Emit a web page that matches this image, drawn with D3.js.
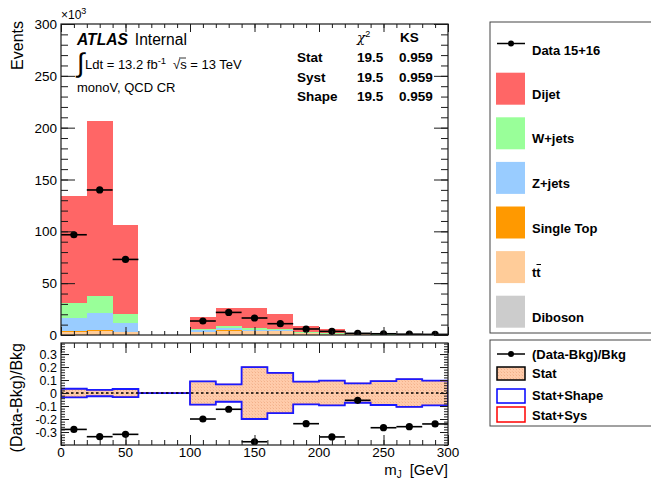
<!DOCTYPE html>
<html>
<head>
<meta charset="utf-8">
<script src="https://cdn.jsdelivr.net/npm/d3@7"></script>
<style>
  html, body { margin: 0; padding: 0; background: #fff; }
  svg { display: block; font-family: "Liberation Sans", Arial, Helvetica, sans-serif; }
</style>
</head>
<body>
<svg id="chart" width="651" height="481"></svg>
<script>
// m_J binning: 15 bins of 20 GeV from 0 to 300
const binEdges = [0, 20, 40, 60, 80, 100, 120, 140, 160, 180, 200, 220, 240, 260, 280, 300];

// Background processes (x10^3 events), stacked bottom to top
const diboson   = [0.3, 0.4, 0.3, 0, 0, 0.3, 0.4, 0.3, 0.3, 0.2, 0.1, 0.05, 0.03, 0.02, 0.02];
const ttbar     = [2.5, 3.5, 2.2, 0, 0, 2.6, 3.5, 3.4, 3.2, 1.5, 0.9, 0.5, 0.3, 0.2, 0.15];
const singleTop = [0.7, 0.8, 0.5, 0, 0, 0.4, 0.5, 0.4, 0.4, 0.2, 0.1, 0.05, 0.03, 0.02, 0.02];
const zjets     = [13.2, 16.1, 8.9, 0, 0, 1.2, 2.0, 1.2, 1.0, 0.4, 0.3, 0.15, 0.1, 0.08, 0.05];
const wjets     = [13.8, 16.4, 8.0, 0, 0, 1.3, 1.9, 1.1, 0.9, 0.5, 0.3, 0.15, 0.1, 0.08, 0.05];
const dijet     = [104.0, 169.2, 86.5, 0, 0, 11.9, 18.0, 19.9, 14.4, 5.5, 3.7, 1.5, 1.24, 0.9, 0.71];

// Observed data (x10^3 events); null where no point is drawn
const data1516  = [96.7, 139.9, 72.9, null, null, 13.5, 21.8, 16.4, 10.9, 5.8, 3.5, 1.6, 1.2, 0.8, 0.6];

// Ratio panel: (Data-Bkg)/Bkg and relative uncertainty half-widths
const ratioVals = [-0.28, -0.336, -0.318, null, null, -0.20, -0.125, -0.375, -0.46, -0.236, -0.338, -0.056, -0.267, -0.259, -0.238];
const statErr   = [0.033, 0.025, 0.031, 0, 0, 0.09, 0.067, 0.20, 0.155, 0.087, 0.095, 0.075, 0.092, 0.107, 0.095];
const shapeErr  = [0.033, 0.025, 0.031, 0, 0, 0.09, 0.067, 0.20, 0.155, 0.087, 0.095, 0.075, 0.092, 0.107, 0.095];
const sysErr    = [0.033, 0.025, 0.031, 0, 0, 0.09, 0.067, 0.20, 0.155, 0.087, 0.095, 0.075, 0.092, 0.107, 0.095];

// Fit-quality table
const statRows  = ["Stat", "Syst", "Shape"];
const chi2Vals  = ["19.5", "19.5", "19.5"];
const ksVals    = ["0.959", "0.959", "0.959"];

// Axis ticks
const xTicks      = [0, 50, 100, 150, 200, 250, 300];
const yMainTicks  = [0, 50, 100, 150, 200, 250, 300];
const yRatioTicks = [-0.3, -0.2, -0.1, 0, 0.1, 0.2, 0.3];

const procNames  = ["Diboson", "ttbar", "Single Top", "Z+jets", "W+jets", "Dijet"];
const procSeries = [diboson, ttbar, singleTop, zjets, wjets, dijet];
const procColors = { "Dijet": "#ff6666", "W+jets": "#99ff99", "Z+jets": "#99ccff",
                     "Single Top": "#ff9900", "ttbar": "#ffcc99", "Diboson": "#cccccc" };

const svg = d3.select("#chart");
const frameColor = "#1a1a1a";

// Pads
const L = 61, R = 448;
const mainTop = 24, mainBot = 335;
const ratTop = 343, ratBot = 445;

const x  = d3.scaleLinear().domain([0, 300]).range([L, R]);
const y  = d3.scaleLinear().domain([0, 300]).range([mainBot, mainTop]);
const yr = d3.scaleLinear().domain([-0.4, 0.385]).range([ratBot, ratTop]);

// hatch-like texture for the stat band
const defs = svg.append("defs");
const pat = defs.append("pattern").attr("id", "statHatch")
  .attr("patternUnits", "userSpaceOnUse").attr("width", 3).attr("height", 3);
pat.append("rect").attr("width", 3).attr("height", 3).attr("fill", "#ffcbaa");
pat.append("rect").attr("x", 0).attr("y", 0).attr("width", 1).attr("height", 1).attr("fill", "#f2b08a");
pat.append("rect").attr("x", 2).attr("y", 2).attr("width", 1).attr("height", 1).attr("fill", "#f7bf9c");

defs.append("clipPath").attr("id", "clipMain").append("rect")
  .attr("x", L).attr("y", mainTop).attr("width", R - L).attr("height", mainBot - mainTop);
defs.append("clipPath").attr("id", "clipRatio").append("rect")
  .attr("x", L).attr("y", ratTop).attr("width", R - L).attr("height", ratBot - ratTop);

// ---------- main pad: stacked histogram ----------
const rows = binEdges.slice(0, -1).map((lo, i) => {
  const r = { lo: lo, hi: binEdges[i + 1] };
  procNames.forEach((n, k) => { r[n] = procSeries[k][i]; });
  return r;
});
const stacked = d3.stack().keys(procNames)(rows);

const gMain = svg.append("g").attr("clip-path", "url(#clipMain)");
stacked.forEach(layer => {
  gMain.append("g").selectAll("rect").data(layer).join("rect")
    .attr("x", d => x(d.data.lo))
    .attr("width", d => x(d.data.hi) - x(d.data.lo))
    .attr("y", d => y(d[1]))
    .attr("height", d => Math.max(0, y(d[0]) - y(d[1])))
    .attr("fill", procColors[layer.key])
    .attr("shape-rendering", "crispEdges");
});

// data points
const dataPts = data1516.map((v, i) => ({ v, lo: binEdges[i], hi: binEdges[i + 1] })).filter(d => d.v !== null);
const gData = svg.append("g").attr("clip-path", "url(#clipMain)");
gData.selectAll("line").data(dataPts).join("line")
  .attr("x1", d => x(d.lo)).attr("x2", d => x(d.hi))
  .attr("y1", d => y(d.v)).attr("y2", d => y(d.v))
  .attr("stroke", "#000").attr("stroke-width", 1.6);
gData.selectAll("circle").data(dataPts).join("circle")
  .attr("cx", d => x((d.lo + d.hi) / 2)).attr("cy", d => y(d.v)).attr("r", 3.6)
  .attr("fill", "#000");

// axes helpers
function tickAxis(g, axisFn, scale, values, size) {
  g.call(axisFn(scale).tickValues(values).tickSize(size).tickFormat(""))
   .call(s => s.select(".domain").remove())
   .call(s => s.selectAll(".tick line").attr("stroke", frameColor).attr("stroke-width", 1));
}
const xMinor = d3.range(0, 301, 10);
const yMainMinor = d3.range(0, 301, 10);
const yRatioMinor = d3.range(-40, 39, 2).map(v => v / 100);

// main pad ticks (inward on all four sides)
tickAxis(svg.append("g").attr("transform", `translate(0,${mainBot})`), d3.axisTop, x, xMinor, 4);
tickAxis(svg.append("g").attr("transform", `translate(0,${mainBot})`), d3.axisTop, x, xTicks, 8);
tickAxis(svg.append("g").attr("transform", `translate(0,${mainTop})`), d3.axisBottom, x, xMinor, 4);
tickAxis(svg.append("g").attr("transform", `translate(0,${mainTop})`), d3.axisBottom, x, xTicks, 8);
tickAxis(svg.append("g").attr("transform", `translate(${L},0)`), d3.axisRight, y, yMainMinor, 7);
tickAxis(svg.append("g").attr("transform", `translate(${L},0)`), d3.axisRight, y, yMainTicks, 14);
tickAxis(svg.append("g").attr("transform", `translate(${R},0)`), d3.axisLeft, y, yMainMinor, 7);
tickAxis(svg.append("g").attr("transform", `translate(${R},0)`), d3.axisLeft, y, yMainTicks, 14);

svg.append("rect").attr("x", L).attr("y", mainTop).attr("width", R - L).attr("height", mainBot - mainTop)
  .attr("fill", "none").attr("stroke", frameColor).attr("stroke-width", 1.2);

// main y labels
svg.append("g").selectAll("text").data(yMainTicks).join("text")
  .attr("x", L - 4).attr("y", d => y(d) + 5)
  .attr("text-anchor", "end").attr("font-size", 13.5).text(d => d);

// x10^3 multiplier
const mult = svg.append("text").attr("x", 61).attr("y", 19).attr("font-size", 12);
mult.append("tspan").text("\u00d710");
mult.append("tspan").attr("dy", -5).attr("font-size", 9).text("3");

svg.append("text").attr("transform", "translate(23,21) rotate(-90)")
  .attr("text-anchor", "end").attr("font-size", 16).text("Events");

// ATLAS label block
const atl = svg.append("text").attr("x", 77).attr("y", 45).attr("font-size", 15.6);
atl.append("tspan").attr("font-weight", "bold").attr("font-style", "italic").text("ATLAS");
atl.append("tspan").attr("dx", 7).text("Internal");

// luminosity line: integral sign, Ldt, sqrt(s)
const lum = svg.append("text").attr("x", 77).attr("y", 72).attr("font-size", 13);
lum.append("tspan").attr("font-size", 27).text("\u222b");
lum.append("tspan").attr("x", 85).attr("dy", -3.5).text("Ldt = 13.2 fb");
lum.append("tspan").attr("dy", -5).attr("font-size", 9.5).text("-1");
lum.append("tspan").attr("x", 173).attr("dy", 5).text("\u221as = 13 TeV");
svg.append("line").attr("x1", 179).attr("x2", 186).attr("y1", 58).attr("y2", 58)
  .attr("stroke", "#000").attr("stroke-width", 0.8);

svg.append("text").attr("x", 77).attr("y", 92).attr("font-size", 13).text("monoV, QCD CR");

// fit-quality table
const chiHead = svg.append("text").attr("x", 357).attr("y", 42).attr("font-size", 13.5);
chiHead.append("tspan").attr("font-family", "DejaVu Serif").attr("font-style", "italic").text("\u03c7");
chiHead.append("tspan").attr("dy", -5).attr("font-size", 9).text("2");
svg.append("text").attr("x", 400).attr("y", 42).attr("font-size", 13.5).attr("font-weight", "bold").text("KS");
const rowY = [62, 81.5, 101];
statRows.forEach((r, i) => {
  svg.append("text").attr("x", 297).attr("y", rowY[i]).attr("font-size", 13.5).attr("font-weight", "bold").text(r);
  svg.append("text").attr("x", 357).attr("y", rowY[i]).attr("font-size", 13.5).attr("font-weight", "bold").text(chi2Vals[i]);
  svg.append("text").attr("x", 399).attr("y", rowY[i]).attr("font-size", 13.5).attr("font-weight", "bold").text(ksVals[i]);
});

// ---------- ratio pad ----------
const gRat = svg.append("g").attr("clip-path", "url(#clipRatio)");

function bandPolygon(errs) {
  const top = [], bot = [];
  errs.forEach((e, i) => {
    top.push([x(binEdges[i]), yr(e)], [x(binEdges[i + 1]), yr(e)]);
    bot.push([x(binEdges[i]), yr(-e)], [x(binEdges[i + 1]), yr(-e)]);
  });
  return top.concat(bot.reverse());
}
const poly = d3.line();
gRat.append("path").attr("d", poly(bandPolygon(statErr)) + "Z")
  .attr("fill", "url(#statHatch)").attr("stroke", "none");
gRat.append("path").attr("d", poly(bandPolygon(sysErr)) + "Z")
  .attr("fill", "none").attr("stroke", "#ff0000").attr("stroke-width", 0.8);
gRat.append("path").attr("d", poly(bandPolygon(shapeErr)) + "Z")
  .attr("fill", "none").attr("stroke", "#1a1aff").attr("stroke-width", 1.8);

gRat.append("line").attr("x1", L).attr("x2", R).attr("y1", yr(0)).attr("y2", yr(0))
  .attr("stroke", "#000").attr("stroke-width", 1.5).attr("stroke-dasharray", "2.5,2.5");

const ratPts = ratioVals.map((v, i) => ({ v, lo: binEdges[i], hi: binEdges[i + 1] })).filter(d => d.v !== null);
gRat.append("g").selectAll("line").data(ratPts).join("line")
  .attr("x1", d => x(d.lo)).attr("x2", d => x(d.hi))
  .attr("y1", d => yr(d.v)).attr("y2", d => yr(d.v))
  .attr("stroke", "#000").attr("stroke-width", 1.6);
gRat.append("g").selectAll("circle").data(ratPts).join("circle")
  .attr("cx", d => x((d.lo + d.hi) / 2)).attr("cy", d => yr(d.v)).attr("r", 3.6)
  .attr("fill", "#000");

tickAxis(svg.append("g").attr("transform", `translate(0,${ratBot})`), d3.axisTop, x, xMinor, 5);
tickAxis(svg.append("g").attr("transform", `translate(0,${ratBot})`), d3.axisTop, x, xTicks, 10);
tickAxis(svg.append("g").attr("transform", `translate(0,${ratTop})`), d3.axisBottom, x, xMinor, 5);
tickAxis(svg.append("g").attr("transform", `translate(0,${ratTop})`), d3.axisBottom, x, xTicks, 10);
tickAxis(svg.append("g").attr("transform", `translate(${L},0)`), d3.axisRight, yr, yRatioMinor, 4);
tickAxis(svg.append("g").attr("transform", `translate(${L},0)`), d3.axisRight, yr, yRatioTicks, 8);
tickAxis(svg.append("g").attr("transform", `translate(${R},0)`), d3.axisLeft, yr, yRatioMinor, 4);
tickAxis(svg.append("g").attr("transform", `translate(${R},0)`), d3.axisLeft, yr, yRatioTicks, 8);

svg.append("rect").attr("x", L).attr("y", ratTop).attr("width", R - L).attr("height", ratBot - ratTop)
  .attr("fill", "none").attr("stroke", frameColor).attr("stroke-width", 1.2);

svg.append("g").selectAll("text").data(yRatioTicks).join("text")
  .attr("x", L - 4).attr("y", d => yr(d) + 4.5)
  .attr("text-anchor", "end").attr("font-size", 12.5)
  .text(d => d === 0 ? "0" : d3.format(".1f")(d).replace("\u2212", "-"));

svg.append("g").selectAll("text").data(xTicks).join("text")
  .attr("x", d => x(d)).attr("y", 457)
  .attr("text-anchor", "middle").attr("font-size", 13.5).text(d => d);

svg.append("text").attr("transform", "translate(22,343) rotate(-90)")
  .attr("text-anchor", "end").attr("font-size", 16).text("(Data-Bkg)/Bkg");

const xt = svg.append("text").attr("x", 448).attr("y", 475).attr("text-anchor", "end").attr("font-size", 15);
xt.append("tspan").text("m");
xt.append("tspan").attr("dy", 3).attr("font-size", 10).text("J");
xt.append("tspan").attr("dy", -3).attr("dx", 8).text("[GeV]");

// ---------- legends ----------
svg.append("rect").attr("x", 490).attr("y", 22).attr("width", 170).attr("height", 311)
  .attr("fill", "#fff").attr("stroke", "#444").attr("stroke-width", 1);

function markerEntry(cy, label, ty) {
  svg.append("line").attr("x1", 497).attr("x2", 525).attr("y1", cy).attr("y2", cy)
    .attr("stroke", "#000").attr("stroke-width", 1.5);
  svg.append("circle").attr("cx", 511).attr("cy", cy).attr("r", 3).attr("fill", "#000");
  svg.append("text").attr("x", 532).attr("y", ty).attr("font-size", 13).attr("font-weight", "bold").text(label);
}
markerEntry(43.5, "Data 15+16", 54.5);

const legendProcs = ["Dijet", "W+jets", "Z+jets", "Single Top", "ttbar", "Diboson"];
legendProcs.forEach((n, i) => {
  const top = 72.7 + i * 44.6;
  svg.append("rect").attr("x", 496).attr("y", top).attr("width", 29).attr("height", 32)
    .attr("fill", procColors[n]);
  const t = svg.append("text").attr("x", 532).attr("y", top + 26).attr("font-size", 13).attr("font-weight", "bold");
  t.text(n === "ttbar" ? "tt" : n);
});
// overline bar for the anti-top
svg.append("line").attr("x1", 536.5).attr("x2", 541).attr("y1", 264.5).attr("y2", 264.5)
  .attr("stroke", "#000").attr("stroke-width", 1);

svg.append("rect").attr("x", 490).attr("y", 340).attr("width", 170).attr("height", 86)
  .attr("fill", "#fff").attr("stroke", "#444").attr("stroke-width", 1);
markerEntry(354, "(Data-Bkg)/Bkg", 358.5);
svg.append("rect").attr("x", 497).attr("y", 367).attr("width", 28).attr("height", 13)
  .attr("fill", "url(#statHatch)").attr("stroke", "#000").attr("stroke-width", 1.5);
svg.append("text").attr("x", 532).attr("y", 378).attr("font-size", 13).attr("font-weight", "bold").text("Stat");
svg.append("rect").attr("x", 497).attr("y", 389).attr("width", 28).attr("height", 14)
  .attr("fill", "#fff").attr("stroke", "#0000ff").attr("stroke-width", 1.5);
svg.append("text").attr("x", 532).attr("y", 400).attr("font-size", 13).attr("font-weight", "bold").text("Stat+Shape");
svg.append("rect").attr("x", 497).attr("y", 407).attr("width", 28).attr("height", 15)
  .attr("fill", "#fff").attr("stroke", "#ff0000").attr("stroke-width", 1.5);
svg.append("text").attr("x", 532).attr("y", 419.5).attr("font-size", 13).attr("font-weight", "bold").text("Stat+Sys");
</script>
</body>
</html>
